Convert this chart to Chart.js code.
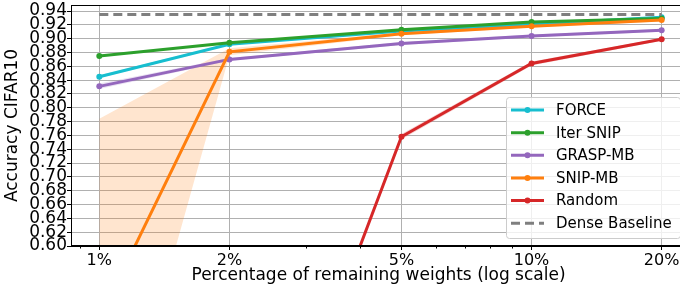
<!DOCTYPE html>
<html>
<head>
<meta charset="utf-8">
<script src="https://cdn.jsdelivr.net/npm/chart.js@4"></script>
<style>
  html, body { margin: 0; padding: 0; background: #fff; overflow: hidden; }
  #wrap { width: 680px; height: 286px; overflow: hidden; }
</style>
</head>
<body>
<div id="wrap"><canvas id="chart" width="690" height="286"></canvas></div>
<script>
// Data
const xValues = [1, 2, 5, 10, 20];
const xTicks = [1, 2, 5, 10, 20];
const xMinorTicks = [0.9, 3, 4, 6, 7, 8, 9];
const yTicks = [0.60, 0.62, 0.64, 0.66, 0.68, 0.70, 0.72, 0.74, 0.76, 0.78, 0.80,
                0.82, 0.84, 0.86, 0.88, 0.90, 0.92, 0.94];

const force    = [0.845, 0.892, 0.911, 0.921, 0.931];
const iterSnip = [0.875, 0.894, 0.913, 0.924, 0.929];
const graspMb  = [0.831, 0.870, 0.893, 0.904, 0.912];
const snipMb   = [0.494, 0.881, 0.907, 0.918, 0.927];
const random   = [0.100, 0.100, 0.758, 0.864, 0.899];
const dense    = [0.935, 0.935, 0.935, 0.935, 0.935];

const forceStd    = [0.002, 0.001, 0.001, 0.001, 0.001];
const iterSnipStd = [0.001, 0.001, 0.001, 0.001, 0.001];
const graspMbStd  = [0.004, 0.002, 0.002, 0.002, 0.002];
const snipMbStd   = [0.290, 0.005, 0.002, 0.002, 0.002];
const randomStd   = [0.001, 0.001, 0.004, 0.003, 0.002];

const series = [
  {label: 'FORCE',     data: force,    std: forceStd,    color: '#17becf', fill: 'rgba(23,190,207,0.2)'},
  {label: 'Iter SNIP', data: iterSnip, std: iterSnipStd, color: '#2ca02c', fill: 'rgba(44,160,44,0.2)'},
  {label: 'GRASP-MB',  data: graspMb,  std: graspMbStd,  color: '#9467bd', fill: 'rgba(148,103,189,0.2)'},
  {label: 'SNIP-MB',   data: snipMb,   std: snipMbStd,   color: '#ff7f0e', fill: 'rgba(255,127,14,0.2)'},
  {label: 'Random',    data: random,   std: randomStd,   color: '#d62728', fill: 'rgba(214,39,40,0.2)'}
];

const pts = arr => arr.map((v, i) => ({x: xValues[i], y: v}));

// Build datasets: bands behind, lines on top in listed order
const datasets = [];
series.forEach((s, k) => {
  datasets.push({
    data: pts(s.data.map((v, i) => v + s.std[i])),
    borderWidth: 0, pointRadius: 0, fill: false, legend: false, order: 100
  });
  datasets.push({
    data: pts(s.data.map((v, i) => v - s.std[i])),
    borderWidth: 0, pointRadius: 0, fill: '-1', backgroundColor: s.fill, legend: false, order: 100
  });
});
series.forEach((s, k) => {
  datasets.push({
    label: s.label, data: pts(s.data), borderColor: s.color, backgroundColor: s.color,
    borderWidth: 3, pointRadius: 3, pointBorderWidth: 0, pointBackgroundColor: s.color,
    fill: false, legend: true, order: 10 - k
  });
});
datasets.push({
  label: 'Dense Baseline', data: pts(dense), borderColor: '#7f7f7f', backgroundColor: '#7f7f7f',
  borderWidth: 3, borderDash: [9, 5], pointRadius: 0, fill: false, legend: true, dashed: true, order: 1
});

// frame, minor ticks and legend box like matplotlib
const extrasPlugin = {
  id: 'extras',
  afterDraw(chart) {
    const ctx = chart.ctx;
    const a = chart.chartArea;
    ctx.save();
    // minor ticks
    const xs = chart.scales.x;
    ctx.strokeStyle = '#000';
    ctx.lineWidth = 1;
    ctx.beginPath();
    xMinorTicks.forEach(v => {
      const px = Math.round(xs.getPixelForValue(v)) + 0.5;
      ctx.moveTo(px, a.bottom);
      ctx.lineTo(px, a.bottom + 2.5);
    });
    ctx.stroke();
    // frame
    ctx.strokeRect(a.left + 0.5, a.top + 0.5, a.right - a.left - 1, a.bottom - a.top - 1);

    // legend
    const bx = 506, by = 97, bw = 174, bh = 141, r = 3;
    ctx.fillStyle = 'rgba(255,255,255,0.8)';
    ctx.strokeStyle = '#cccccc';
    ctx.beginPath();
    ctx.roundRect(bx + 0.5, by + 0.5, bw, bh, r);
    ctx.fill();
    ctx.stroke();

    const items = chart.data.datasets.filter(d => d.legend);
    ctx.font = '15px "DejaVu Sans"';
    ctx.textBaseline = 'middle';
    ctx.textAlign = 'left';
    items.forEach((d, i) => {
      const y = 110 + i * 22.65;
      ctx.strokeStyle = d.borderColor;
      ctx.lineWidth = 3;
      ctx.setLineDash(d.dashed ? [9, 5] : []);
      ctx.beginPath();
      ctx.moveTo(511, y);
      ctx.lineTo(544, y);
      ctx.stroke();
      ctx.setLineDash([]);
      if (!d.dashed) {
        ctx.fillStyle = d.borderColor;
        ctx.beginPath();
        ctx.arc(527.5, y, 3, 0, Math.PI * 2);
        ctx.fill();
      }
      ctx.fillStyle = '#000';
      ctx.fillText(d.label, 556, y + 1);
    });
    ctx.restore();
  }
};

Chart.defaults.font.family = '"DejaVu Sans"';
Chart.defaults.color = '#000';

new Chart(document.getElementById('chart'), {
  type: 'line',
  data: {datasets},
  options: {
    responsive: false,
    animation: false,
    events: [],
    layout: {padding: {top: 5, left: 0, right: 0, bottom: 0}},
    plugins: {legend: {display: false}, tooltip: {enabled: false}},
    elements: {line: {tension: 0}},
    scales: {
      x: {
        type: 'logarithmic',
        min: 0.860,
        max: 22.77,
        afterBuildTicks: s => { s.ticks = xTicks.map(v => ({value: v})); },
        afterFit: s => { s.height = 40; s.paddingLeft = 0; s.paddingRight = 0; },
        ticks: {
          autoSkip: false, maxRotation: 0, padding: 1,
          font: {size: 16},
          callback: v => v + '%'
        },
        grid: {color: '#b0b0b0', lineWidth: 1, tickLength: 4, tickColor: '#000'},
        border: {color: '#000', width: 1},
        title: {
          display: true, text: 'Percentage of remaining weights (log scale)',
          font: {size: 17}, padding: {top: 0, bottom: 0}
        }
      },
      y: {
        type: 'linear',
        min: 0.60,
        max: 0.9487,
        afterBuildTicks: s => { s.ticks = yTicks.map(v => ({value: v})); },
        afterFit: s => { s.width = 71; s.paddingTop = 0; s.paddingBottom = 0; },
        ticks: {
          autoSkip: false, padding: 0,
          font: {size: 17},
          callback: v => v.toFixed(2)
        },
        grid: {color: '#b0b0b0', lineWidth: 1, tickLength: 4, tickColor: '#000'},
        border: {color: '#000', width: 1},
        title: {
          display: true, text: 'Accuracy CIFAR10',
          font: {size: 17}, padding: {top: 2, bottom: 0}
        }
      }
    }
  },
  plugins: [extrasPlugin]
});
</script>
</body>
</html>
